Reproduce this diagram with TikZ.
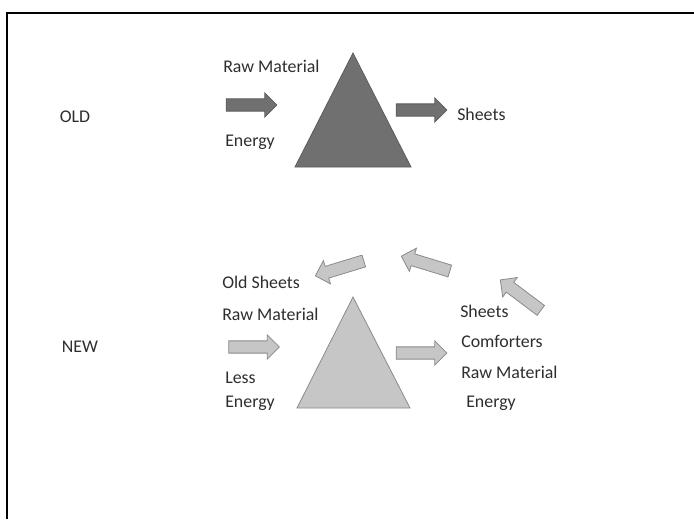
\documentclass[tikz,border=0pt]{standalone}
\usepackage{fontspec}
\setmainfont{Carlito}
\usepackage{xcolor}
\usetikzlibrary{shapes.arrows, positioning}
\definecolor{darkfill}{HTML}{707070}
\definecolor{darkline}{HTML}{5C5C5C}
\definecolor{lightfill}{HTML}{C6C6C6}
\definecolor{lightline}{HTML}{8A8A8A}
\definecolor{labeltext}{HTML}{2E2E2E}

\tikzset{
  lbl/.style={inner sep=0pt, anchor=base west, text=labeltext, font=\fontsize{13.4pt}{15pt}\selectfont},
  tag/.style={lbl, anchor=base},
  blockarrow/.style={single arrow, inner xsep=0pt, inner ysep=4.3pt,
    single arrow head extend=4.5pt, minimum height=38pt, line width=0.6pt},
  oldarrow/.style={blockarrow, fill=darkfill, draw=darkline},
  newarrow/.style={blockarrow, fill=lightfill, draw=lightline},
}

\begin{document}
\begin{tikzpicture}[x=0.75pt, y=0.75pt]
  \useasboundingbox (0,0) rectangle (694,-519);
  % frame
  \draw[line width=1.5pt] (7,-519) -- (7,-12.5) -- (694,-12.5);

  % old process
  \node[tag] (oldtag) at (75,-122) {OLD};
  \filldraw[fill=darkfill, draw=darkline, line width=0.6pt] (353,-53) -- (411,-167) -- (295,-167) -- cycle;
  \node[oldarrow] (oldin) at (248.5,-105) {};
  \node[oldarrow] (oldout) at (418.5,-110) {};
  \node[lbl] (oldraw) at (223,-72) {Raw Material};
  \node[lbl] (oldenergy) at (225,-146) {Energy};
  \node[lbl] (oldsheets) at (457,-120) {Sheets};

  % new process
  \node[tag] (newtag) at (80,-352) {NEW};
  \filldraw[fill=lightfill, draw=lightline, line width=0.6pt] (353,-297) -- (410,-408) -- (297,-408) -- cycle;
  \node[newarrow] (newin) at (251,-347) {};
  \node[newarrow] (newout) at (418.5,-353) {};
  \node[newarrow, rotate=197] (backa) at (342.5,-267.5) {};
  \node[newarrow, rotate=163] (backb) at (428.5,-264.5) {};
  \node[newarrow, rotate=143] (backc) at (523,-297) {};
  \node[lbl] (newold) at (222,-288) {Old Sheets};
  \node[lbl] (newraw) at (222,-320) {Raw Material};
  \node[lbl] (newless) at (225,-383) {Less};
  \node[lbl] (newenergy) at (225,-407) {Energy};
  \node[lbl] (outsheets) at (460,-317) {Sheets};
  \node[lbl] (outcomf) at (461,-347) {Comforters};
  \node[lbl] (outraw) at (461,-378) {Raw Material};
  \node[lbl] (outenergy) at (466,-407) {Energy};
\end{tikzpicture}
\end{document}
